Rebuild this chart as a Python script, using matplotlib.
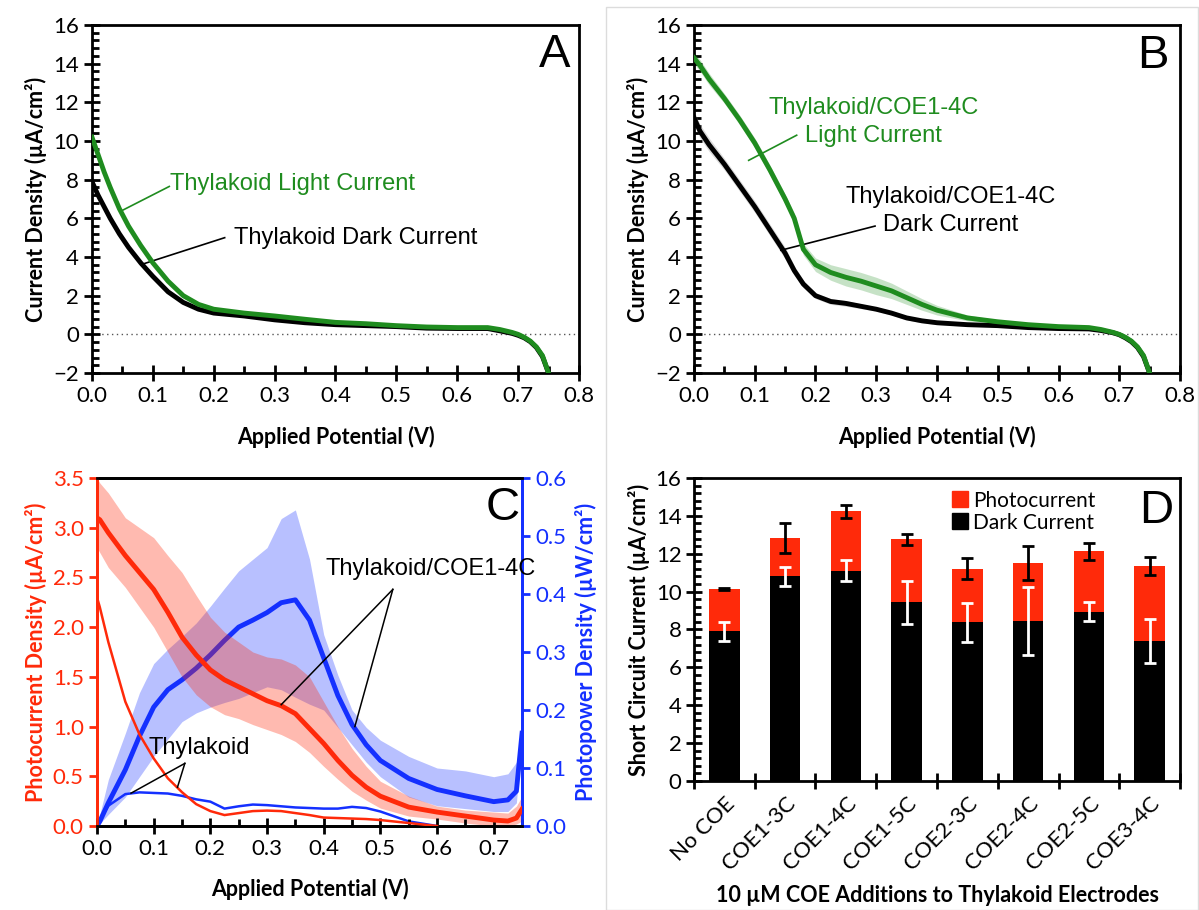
import numpy as np
import matplotlib
matplotlib.use("Agg")
import matplotlib.pyplot as plt
from matplotlib.patches import Rectangle
from matplotlib.lines import Line2D
from matplotlib.ticker import MultipleLocator, FormatStrFormatter, FixedLocator

TICKFONT = ["Lato", "DejaVu Sans"]
TEXTFONT = ["Liberation Sans", "DejaVu Sans"]
plt.rcParams["font.family"] = TICKFONT

GREEN = "#1f8c1f"
RED = "#ff2a0a"
BLUE = "#1430ff"

# ---------------- panel A: thylakoid J-V ----------------
xa = [0, 0.01, 0.02, 0.03, 0.045, 0.06, 0.08, 0.1, 0.125, 0.15, 0.175, 0.2, 0.25, 0.3,
      0.35, 0.4, 0.45, 0.5, 0.55, 0.6, 0.65, 0.67, 0.69, 0.7, 0.71, 0.72, 0.73, 0.74, 0.75]
light_a = [10.2, 9.3, 8.4, 7.6, 6.5, 5.6, 4.6, 3.7, 2.75, 2.0, 1.55, 1.3, 1.1, 0.95,
           0.78, 0.62, 0.55, 0.45, 0.38, 0.35, 0.35, 0.25, 0.1, 0.0, -0.15, -0.35, -0.65, -1.1, -2.0]
dark_a = [7.9, 7.2, 6.6, 6.0, 5.2, 4.5, 3.7, 3.0, 2.2, 1.65, 1.3, 1.1, 0.95, 0.75,
          0.6, 0.5, 0.45, 0.4, 0.32, 0.3, 0.3, 0.18, 0.05, -0.05, -0.18, -0.38, -0.68, -1.15, -2.0]

# ---------------- panel B: thylakoid/COE1-4C J-V ----------------
xb = [0, 0.01, 0.025, 0.05, 0.075, 0.1, 0.125, 0.15, 0.165, 0.18, 0.2, 0.225, 0.25, 0.275,
      0.3, 0.325, 0.35, 0.375, 0.4, 0.45, 0.5, 0.55, 0.6, 0.65, 0.67, 0.69, 0.7, 0.71, 0.72,
      0.73, 0.74, 0.75]
light_b = [14.3, 13.9, 13.2, 12.2, 11.1, 9.9, 8.5, 7.0, 6.0, 4.4, 3.6, 3.2, 2.95, 2.75,
           2.5, 2.25, 1.9, 1.55, 1.25, 0.85, 0.65, 0.5, 0.4, 0.35, 0.25, 0.1, 0.0, -0.15, -0.35,
           -0.65, -1.1, -2.0]
light_b_err = [0.3, 0.3, 0.3, 0.25, 0.25, 0.25, 0.25, 0.25, 0.25, 0.3, 0.35, 0.4, 0.45, 0.45,
               0.45, 0.4, 0.35, 0.3, 0.25, 0.15, 0.1, 0.1, 0.1, 0.1, 0.1, 0.1, 0.1, 0.1, 0.1,
               0.1, 0.1, 0.1]
dark_b = [11.2, 10.5, 9.8, 8.8, 7.7, 6.6, 5.4, 4.2, 3.3, 2.6, 2.0, 1.7, 1.6, 1.45,
          1.3, 1.1, 0.85, 0.7, 0.6, 0.5, 0.45, 0.35, 0.3, 0.28, 0.2, 0.08, -0.02, -0.18, -0.38,
          -0.68, -1.15, -2.0]
dark_b_err = [0.35, 0.35, 0.35, 0.3, 0.3, 0.3, 0.3, 0.3, 0.25, 0.2, 0.15, 0.15, 0.15, 0.12,
              0.1, 0.1, 0.1, 0.1, 0.1, 0.08, 0.08, 0.08, 0.08, 0.08, 0.08, 0.08, 0.08, 0.08, 0.08,
              0.08, 0.08, 0.08]

# ---------------- panel C: photocurrent / photopower ----------------
xc = [0, 0.005, 0.02, 0.05, 0.075, 0.1, 0.125, 0.15, 0.175, 0.2, 0.225, 0.25, 0.275, 0.3,
      0.325, 0.35, 0.375, 0.4, 0.425, 0.45, 0.475, 0.5, 0.55, 0.6, 0.65, 0.7, 0.725, 0.74, 0.75]
pc_coe = [3.1, 3.08, 2.95, 2.72, 2.55, 2.38, 2.15, 1.9, 1.72, 1.57, 1.47, 1.40, 1.33, 1.26,
          1.21, 1.13, 0.98, 0.83, 0.66, 0.51, 0.39, 0.30, 0.19, 0.14, 0.10, 0.06, 0.05, 0.08, 0.17]
pc_coe_hi = [3.5, 3.45, 3.35, 3.1, 3.0, 2.9, 2.72, 2.55, 2.32, 2.1, 1.95, 1.85, 1.75, 1.7,
             1.68, 1.62, 1.5, 1.25, 1.0, 0.78, 0.6, 0.45, 0.3, 0.2, 0.16, 0.14, 0.13, 0.2, 0.3]
pc_coe_lo = [2.8, 2.75, 2.6, 2.4, 2.2, 2.0, 1.75, 1.5, 1.32, 1.2, 1.12, 1.08, 1.02, 0.97,
             0.92, 0.85, 0.74, 0.6, 0.47, 0.35, 0.26, 0.18, 0.1, 0.07, 0.03, 0.0, 0.0, 0.02, 0.05]
pc_thy = [2.3, 2.2, 1.85, 1.25, 0.92, 0.68, 0.48, 0.34, 0.22, 0.15, 0.11, 0.13, 0.15, 0.155,
          0.15, 0.13, 0.11, 0.085, 0.08, 0.075, 0.07, 0.06, 0.03, 0.0, np.nan, np.nan, np.nan,
          np.nan, np.nan]
pp_coe = [0.0, 0.008, 0.04, 0.097, 0.155, 0.205, 0.235, 0.252, 0.272, 0.295, 0.32, 0.343,
          0.355, 0.368, 0.385, 0.39, 0.355, 0.29, 0.225, 0.175, 0.14, 0.113, 0.082, 0.063,
          0.052, 0.042, 0.045, 0.06, 0.16]
pp_coe_hi = [0.0, 0.02, 0.08, 0.16, 0.23, 0.28, 0.305, 0.327, 0.35, 0.379, 0.41, 0.44, 0.46,
             0.48, 0.53, 0.545, 0.46, 0.33, 0.26, 0.2, 0.17, 0.148, 0.12, 0.1, 0.095, 0.085,
             0.09, 0.11, 0.16]
pp_coe_lo = [0.0, 0.004, 0.02, 0.05, 0.085, 0.12, 0.15, 0.18, 0.195, 0.205, 0.213, 0.22, 0.23,
             0.24, 0.235, 0.222, 0.21, 0.2, 0.17, 0.14, 0.11, 0.085, 0.05, 0.035, 0.03, 0.025,
             0.025, 0.04, 0.15]
pp_thy = [0.0, 0.01, 0.035, 0.055, 0.058, 0.057, 0.056, 0.052, 0.046, 0.042, 0.03, 0.034,
          0.037, 0.036, 0.034, 0.032, 0.031, 0.03, 0.03, 0.033, 0.031, 0.025, 0.008, 0.0,
          np.nan, np.nan, np.nan, np.nan, np.nan]

# ---------------- panel D: short circuit current ----------------
categories = ["No COE", "COE1-3C", "COE1-4C", "COE1-5C", "COE2-3C", "COE2-4C", "COE2-5C", "COE3-4C"]
dark_d = [7.9, 10.8, 11.1, 9.43, 8.37, 8.44, 8.95, 7.38]
total_d = [10.15, 12.83, 14.24, 12.76, 11.2, 11.49, 12.12, 11.35]
total_err = [0.05, 0.77, 0.34, 0.29, 0.55, 0.9, 0.47, 0.48]
dark_err = [0.5, 0.51, 0.55, 1.15, 1.03, 1.8, 0.48, 1.16]
photo_d = [t - d for t, d in zip(total_d, dark_d)]

TICK = 16
LABEL = 15.5


def style_jv(ax):
    ax.set_xlim(0, 0.8)
    ax.set_ylim(-2, 16)
    ax.xaxis.set_major_locator(MultipleLocator(0.1))
    ax.xaxis.set_minor_locator(MultipleLocator(0.05))
    ax.xaxis.set_major_formatter(FormatStrFormatter("%.1f"))
    ax.yaxis.set_major_locator(MultipleLocator(2))
    ax.yaxis.set_minor_locator(MultipleLocator(0.4))
    ax.tick_params(which="major", direction="inout", length=11, width=2, labelsize=TICK, pad=4)
    ax.tick_params(which="minor", direction="in", length=5, width=2)
    for s in ax.spines.values():
        s.set_linewidth(2)
    ax.axhline(0, color="#555555", lw=1, ls=(0, (1, 2.5)), zorder=1)
    ax.set_xlabel("Applied Potential (V)", fontsize=LABEL, fontweight="bold", labelpad=14)
    ax.set_ylabel("Current Density (\u00b5A/cm\u00b2)", fontsize=LABEL, fontweight="bold", labelpad=4)


fig = plt.figure(figsize=(11.99, 9.10), dpi=100)

# light frame around the right half
fig.patches.append(Rectangle((606 / 1199, 0.0), 592 / 1199, 903 / 910, transform=fig.transFigure,
                             fill=False, edgecolor="#dcdcdc", lw=1, zorder=0))

RX = 694 / 1199
RW = 486 / 1199

# ---- A ----
axA = fig.add_axes([0.0767, 0.5901, 0.4062, 0.3824])
style_jv(axA)
axA.plot(xa, dark_a, color="black", lw=3.5, zorder=3)
axA.plot(xa, light_a, color=GREEN, lw=3.5, zorder=4)
axA.plot([0.127, 0.046], [7.65, 6.35], color=GREEN, lw=1.2)
axA.text(0.128, 7.8, "Thylakoid Light Current", color=GREEN, fontsize=17, family=TEXTFONT,
         va="center", ha="left")
axA.plot([0.218, 0.08], [5.0, 3.6], color="black", lw=1.2)
axA.text(0.234, 5.0, "Thylakoid Dark Current", color="black", fontsize=17, family=TEXTFONT,
         va="center", ha="left")
axA.text(0.76, 14.45, "A", fontsize=34, family=TEXTFONT, ha="center", va="center")

# ---- B ----
axB = fig.add_axes([RX, 0.5901, RW, 0.3824])
style_jv(axB)
axB.fill_between(xb, np.subtract(dark_b, dark_b_err), np.add(dark_b, dark_b_err),
                 color="#888888", alpha=0.3, lw=0, zorder=2)
axB.fill_between(xb, np.subtract(light_b, light_b_err), np.add(light_b, light_b_err),
                 color=GREEN, alpha=0.25, lw=0, zorder=2)
axB.plot(xb, dark_b, color="black", lw=3.5, zorder=3)
axB.plot(xb, light_b, color=GREEN, lw=3.5, zorder=4)
axB.plot([0.169, 0.09], [10.3, 9.0], color=GREEN, lw=1.2)
axB.text(0.295, 11.7, "Thylakoid/COE1-4C", color=GREEN, fontsize=17, family=TEXTFONT,
         ha="center", va="center")
axB.text(0.295, 10.25, "Light Current", color=GREEN, fontsize=17, family=TEXTFONT,
         ha="center", va="center")
axB.plot([0.298, 0.143], [5.6, 4.35], color="black", lw=1.2)
axB.text(0.423, 7.1, "Thylakoid/COE1-4C", color="black", fontsize=17, family=TEXTFONT,
         ha="center", va="center")
axB.text(0.423, 5.65, "Dark Current", color="black", fontsize=17, family=TEXTFONT,
         ha="center", va="center")
axB.text(0.756, 14.4, "B", fontsize=34, family=TEXTFONT, ha="center", va="center")

# ---- C ----
axC = fig.add_axes([0.0809, 0.0923, 0.3545, 0.3824])
axC2 = axC.twinx()
axC.set_xlim(0, 0.75)
axC.set_ylim(0, 3.5)
axC2.set_ylim(0, 0.6)
axC.fill_between(xc, pc_coe_lo, pc_coe_hi, color=RED, alpha=0.32, lw=0, zorder=1)
axC2.fill_between(xc, pp_coe_lo, pp_coe_hi, color=BLUE, alpha=0.3, lw=0, zorder=1)
axC.plot(xc, pc_thy, color=RED, lw=1.8, zorder=3)
axC.plot(xc, pc_coe, color=RED, lw=3.5, zorder=3)
axC2.plot(xc, pp_thy, color=BLUE, lw=1.8, zorder=3)
axC2.plot(xc, pp_coe, color=BLUE, lw=3.5, zorder=3)
axC.set_zorder(axC2.get_zorder() + 1)
axC.patch.set_visible(False)
axC.xaxis.set_major_locator(FixedLocator(np.arange(0, 0.71, 0.1)))
axC.xaxis.set_minor_locator(MultipleLocator(0.05))
axC.xaxis.set_major_formatter(FormatStrFormatter("%.1f"))
axC.yaxis.set_major_locator(MultipleLocator(0.5))
axC.yaxis.set_major_formatter(FormatStrFormatter("%.1f"))
axC2.yaxis.set_major_locator(MultipleLocator(0.1))
axC2.yaxis.set_major_formatter(FormatStrFormatter("%.1f"))
axC.tick_params(axis="x", which="major", direction="inout", length=11, width=2, labelsize=TICK)
axC.tick_params(axis="x", which="minor", direction="in", length=5, width=2)
axC.tick_params(axis="y", direction="out", length=6, width=2, colors=RED, labelsize=TICK)
axC2.tick_params(axis="y", direction="out", length=6, width=2, colors=BLUE, labelsize=TICK)
for ax in (axC, axC2):
    for s in ax.spines.values():
        s.set_linewidth(2)
    ax.spines["left"].set_color(RED)
    ax.spines["right"].set_color(BLUE)
axC.set_xlabel("Applied Potential (V)", fontsize=LABEL, fontweight="bold", labelpad=14)
axC.set_ylabel("Photocurrent Density (\u00b5A/cm\u00b2)", fontsize=LABEL, fontweight="bold",
               color=RED, labelpad=4)
axC2.set_ylabel("Photopower Density (\u00b5W/cm\u00b2)", fontsize=LABEL, fontweight="bold",
                color=BLUE, labelpad=6)
axC.plot([0.522, 0.325], [2.38, 1.22], color="black", lw=1.1, zorder=5)
axC.plot([0.522, 0.455], [2.38, 1.0], color="black", lw=1.1, zorder=5)
axC.text(0.403, 2.58, "Thylakoid/COE1-4C", fontsize=17, family=TEXTFONT, ha="left",
         va="center", zorder=6)
axC.plot([0.155, 0.06], [0.63, 0.33], color="black", lw=1.1, zorder=5)
axC.plot([0.155, 0.142], [0.63, 0.39], color="black", lw=1.1, zorder=5)
axC.text(0.09, 0.78, "Thylakoid", fontsize=17, family=TEXTFONT, ha="left", va="center", zorder=6)
axC.text(0.715, 3.2, "C", fontsize=34, family=TEXTFONT, ha="center", va="center")

# ---- D ----
axD = fig.add_axes([RX, 0.1418, RW, 0.3329])
pos = np.arange(len(categories))
axD.bar(pos, dark_d, width=0.5, color="black", zorder=2)
axD.bar(pos, photo_d, bottom=dark_d, width=0.5, color=RED, zorder=2)
axD.errorbar(pos, total_d, yerr=total_err, fmt="none", ecolor="black", elinewidth=2,
             capsize=4, capthick=2, zorder=3)
axD.errorbar(pos, dark_d, yerr=dark_err, fmt="none", ecolor="white", elinewidth=2,
             capsize=4, capthick=2, zorder=3)
axD.set_xlim(-0.5, len(categories) - 0.5)
axD.set_ylim(0, 16)
axD.set_xticks(np.arange(-0.5, len(categories), 1.0))
axD.set_xticklabels([])
axD.set_xticks(pos, minor=True)
axD.set_xticklabels(categories, minor=True, rotation=45, ha="right", rotation_mode="anchor",
                    fontsize=TICK)
axD.tick_params(axis="x", which="major", direction="inout", length=11, width=2)
axD.tick_params(axis="x", which="minor", length=0, pad=9)
axD.yaxis.set_major_locator(MultipleLocator(2))
axD.yaxis.set_minor_locator(MultipleLocator(0.4))
axD.tick_params(axis="y", which="major", direction="inout", length=11, width=2, labelsize=TICK)
axD.tick_params(axis="y", which="minor", direction="in", length=5, width=2)
for s in axD.spines.values():
    s.set_linewidth(2)
axD.set_ylabel("Short Circuit Current (\u00b5A/cm\u00b2)", fontsize=LABEL, fontweight="bold", labelpad=4)
axD.set_xlabel("10 \u00b5M COE Additions to Thylakoid Electrodes", fontsize=LABEL, fontweight="bold",
               labelpad=8)
handles = [Line2D([], [], marker="s", ls="none", color=RED, markersize=11),
           Line2D([], [], marker="s", ls="none", color="black", markersize=11)]
axD.legend(handles, ["Photocurrent", "Dark Current"], loc="upper left",
           bbox_to_anchor=(0.5, 1.0), frameon=False, fontsize=15, handletextpad=0.15,
           labelspacing=0.1, borderaxespad=0.2, handlelength=1.0)
axD.text(7.11, 14.24, "D", fontsize=34, family=TEXTFONT, ha="center", va="center")

fig.savefig("out.png", dpi=100)
